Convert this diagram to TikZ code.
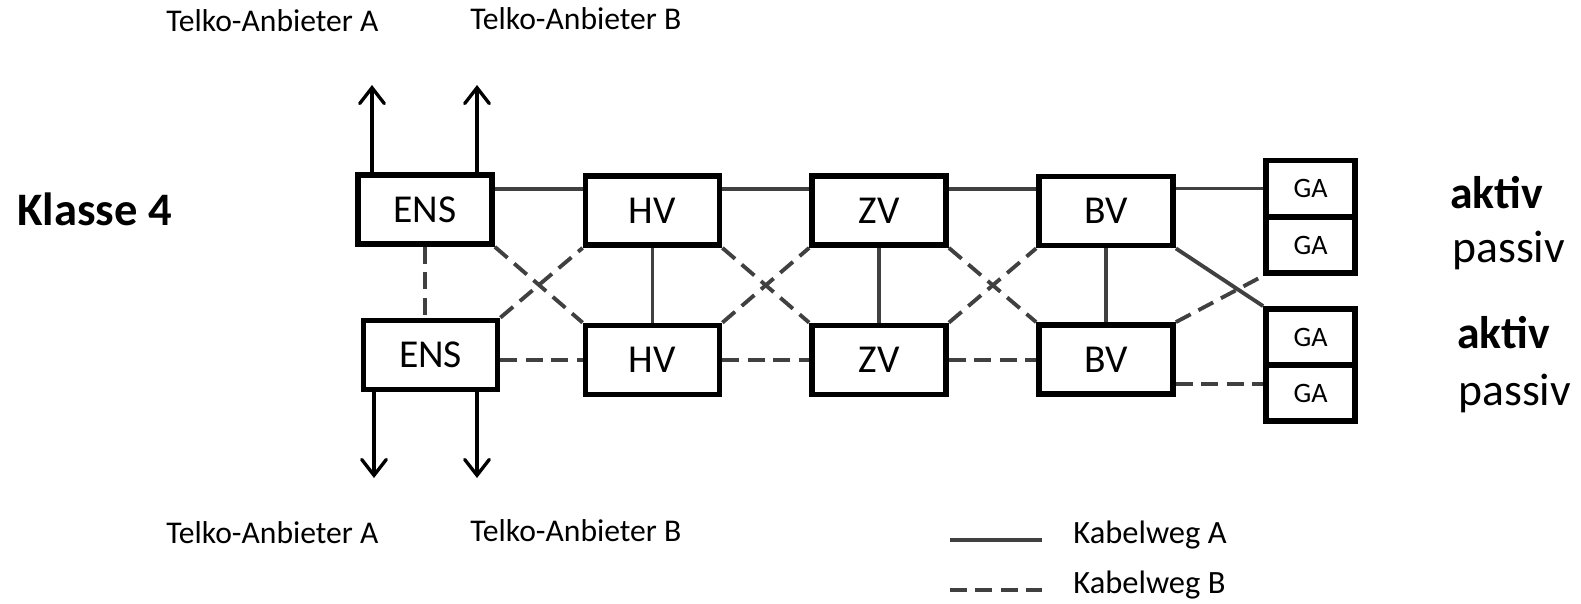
\documentclass[tikz,border=0pt]{standalone}
\usepackage{fontspec}
\setmainfont{Carlito}
\usetikzlibrary{arrows.meta}

\definecolor{cablegray}{HTML}{404040}

\begin{document}
\begin{tikzpicture}[x=0.02cm, y=-0.02cm,
        box_style/.style={rectangle,draw=black,line width=3.3pt,minimum width=2.68cm,minimum height=1.38cm,inner sep=0pt,font=\fontsize{22.5}{27}\selectfont},
        ga_style/.style={rectangle,draw=black,line width=3.3pt,minimum width=1.78cm,minimum height=1.12cm,inner sep=0pt,font=\fontsize{16}{19}\selectfont},
        cable_a_style/.style={draw=cablegray,line width=2.2pt},
        cable_b_style/.style={draw=cablegray,line width=2.2pt,dash pattern=on 9.5pt off 5pt},
        link_style/.style={draw=black,line width=1.9pt,-{Straight Barb[length=9pt,width=14pt,line cap=round]}},
        telko_style/.style={inner sep=0pt,anchor=base west,font=\fontsize{18}{21}\selectfont},
        state_style/.style={inner sep=0pt,anchor=base west,font=\fontsize{26}{30}\selectfont}]

        \useasboundingbox (0,0) rectangle (1581,603);

        % Kabelweg A (oben) und Kabelweg B (unten)
        \node [box_style](ensA) at (425,209.5) {ENS};
        \node [box_style](hvA) at (652.5,210.5) {HV};
        \node [box_style](zvA) at (879,210.5) {ZV};
        \node [box_style](bvA) at (1106,211) {BV};
        \node [box_style](ensB) at (430.5,355) {ENS};
        \node [box_style](hvB) at (652.5,360) {HV};
        \node [box_style](zvB) at (879,360) {ZV};
        \node [box_style](bvB) at (1106,359.5) {BV};

        % Gebaeudeanschluesse
        \node [ga_style](gaA1) at (1310.5,188.5) {GA};
        \node [ga_style](gaA2) at (1310.5,245) {GA};
        \node [ga_style](gaB1) at (1310.5,337) {GA};
        \node [ga_style](gaB2) at (1310.5,393) {GA};

        \node [state_style, font=\fontsize{26.5}{30}\selectfont\bfseries](klasse) at (17,225) {Klasse 4};
        \node [state_style, font=\fontsize{26}{30}\selectfont\bfseries](aktivA) at (1450,208) {aktiv};
        \node [state_style](passivA) at (1452,262) {passiv};
        \node [state_style, font=\fontsize{26}{30}\selectfont\bfseries](aktivB) at (1457,348) {aktiv};
        \node [state_style](passivB) at (1458,405) {passiv};

        \node [telko_style](telkoTopA) at (166,31) {Telko-Anbieter A};
        \node [telko_style](telkoTopB) at (470,29) {Telko-Anbieter B};
        \node [telko_style](telkoBotA) at (166,543) {Telko-Anbieter A};
        \node [telko_style](telkoBotB) at (470,541) {Telko-Anbieter B};

        % Anbindung an die Telko-Anbieter
        \coordinate (upA) at (372,85);
        \coordinate (upB) at (477,85);
        \coordinate (downA) at (374,478);
        \coordinate (downB) at (477,478);
        \draw [link_style] (ensA.north -| upA) -- (upA);
        \draw [link_style] (ensA.north -| upB) -- (upB);
        \draw [link_style] (ensB.south -| downA) -- (downA);
        \draw [link_style] (ensB.south -| downB) -- (downB);

        % Kabelweg A
        \draw [cable_a_style] (hvA.163 -| ensA.east) -- (hvA.163);
        \draw [cable_a_style] (hvA.17) -- (zvA.163);
        \draw [cable_a_style] (zvA.17) -- (zvA.17 -| bvA.west);
        \draw [cable_a_style] (bvA.east |- gaA1.west) -- (gaA1.west);
        \draw [cable_a_style] (hvA.south) -- (hvB.north);
        \draw [cable_a_style] (zvA.south) -- (zvB.north);
        \draw [cable_a_style] (bvA.south) -- (bvB.north);
        \draw [cable_a_style] (bvA.south east) -- (gaB1.north west);

        % Kabelweg B
        \draw [cable_b_style] (ensA.south) -- (ensA.south |- ensB.north);
        \draw [cable_b_style] (ensB.east |- hvB.west) -- (hvB.west);
        \draw [cable_b_style] (hvB.east) -- (zvB.west);
        \draw [cable_b_style] (zvB.east) -- (zvB.east -| bvB.west);
        \draw [cable_b_style] (bvB.east |- gaB2.169) -- (gaB2.169);
        \draw [cable_b_style] (ensA.south east) -- (hvB.north west);
        \draw [cable_b_style] (ensB.north east) -- (hvA.south west);
        \draw [cable_b_style] (hvA.south east) -- (zvB.north west);
        \draw [cable_b_style] (hvB.north east) -- (zvA.south west);
        \draw [cable_b_style] (zvA.south east) -- (bvB.north west);
        \draw [cable_b_style] (zvB.north east) -- (bvA.south west);
        \draw [cable_b_style] (bvB.north east) -- (gaA2.south west);

        % Legende
        \coordinate (legA1) at (950,540);
        \coordinate (legA2) at (1042,540);
        \coordinate (legB1) at (950,590);
        \coordinate (legB2) at (1042,590);
        \draw [cable_a_style] (legA1) -- (legA2);
        \draw [cable_b_style] (legB1) -- (legB2);
        \node [telko_style, font=\fontsize{18.5}{22}\selectfont](wegA) at (1073,543) {Kabelweg A};
        \node [telko_style, font=\fontsize{18.5}{22}\selectfont](wegB) at (1073,593) {Kabelweg B};
\end{tikzpicture}
\end{document}
